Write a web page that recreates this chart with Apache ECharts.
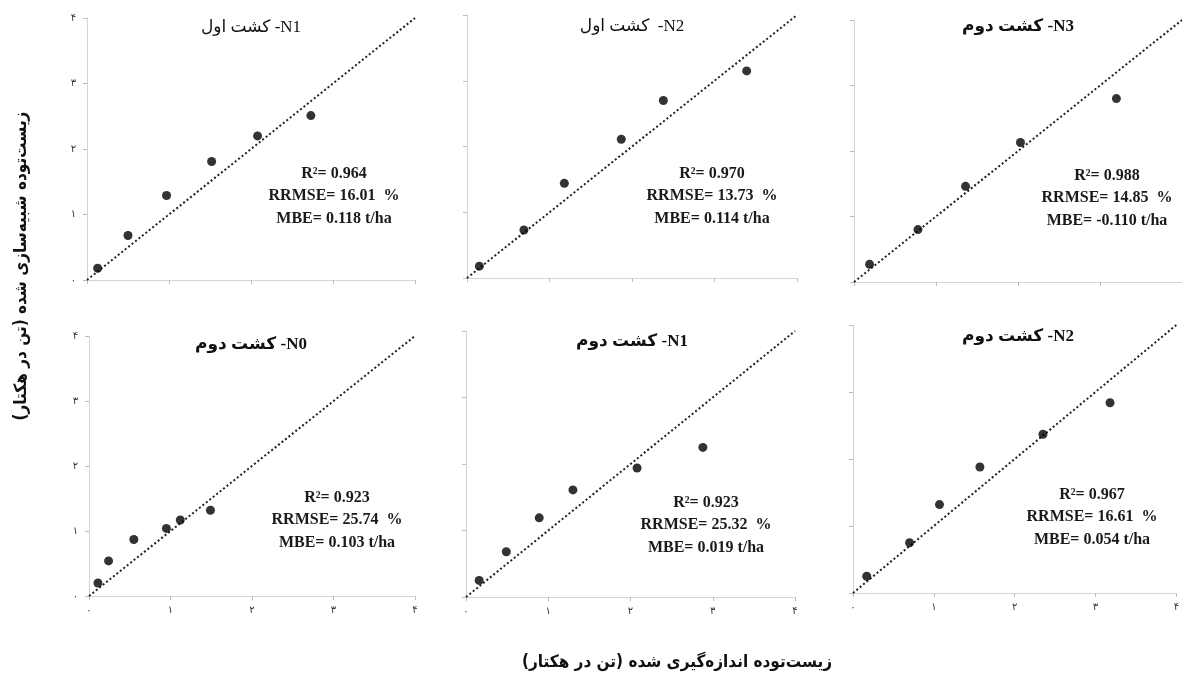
<!DOCTYPE html>
<html>
<head>
<meta charset="utf-8">
<script src="https://cdn.jsdelivr.net/npm/echarts@6/dist/echarts.min.js"></script>
<style>
  html, body { margin: 0; padding: 0; background: #fff; }
  #main { width: 1182px; height: 682px; }
</style>
</head>
<body>
<div id="main"></div>
<script>
// tick labels (Persian digits) for 0..4
var tickLabels = ['۰', '۱', '۲', '۳', '۴'];

// measured (x) vs simulated (y) biomass, t/ha
var n1FirstObs  = [0.13, 0.50, 0.97, 1.52, 2.08, 2.73];
var n1FirstSim  = [0.18, 0.68, 1.29, 1.81, 2.20, 2.51];
var n2FirstObs  = [0.15, 0.69, 1.18, 1.87, 2.38, 3.39];
var n2FirstSim  = [0.18, 0.73, 1.44, 2.11, 2.70, 3.15];
var n3SecondObs = [0.19, 0.78, 1.36, 2.03, 3.20];
var n3SecondSim = [0.27, 0.80, 1.46, 2.13, 2.80];
var n0SecondObs = [0.11, 0.24, 0.55, 0.95, 1.12, 1.49];
var n0SecondSim = [0.20, 0.54, 0.87, 1.04, 1.17, 1.32];
var n1SecondObs = [0.16, 0.49, 0.89, 1.30, 2.08, 2.88];
var n1SecondSim = [0.25, 0.68, 1.19, 1.61, 1.94, 2.25];
var n2SecondObs = [0.17, 0.70, 1.07, 1.57, 2.35, 3.18];
var n2SecondSim = [0.25, 0.75, 1.32, 1.88, 2.37, 2.84];

var titles = ['کشت اول -N1', 'کشت اول  -N2', 'کشت دوم -N3', 'کشت دوم -N0', 'کشت دوم -N1', 'کشت دوم -N2'];
var r2Values = ['0.964', '0.970', '0.988', '0.923', '0.923', '0.967'];
var rrmseValues = ['16.01', '13.73', '14.85', '25.74', '25.32', '16.61'];
var mbeValues = ['0.118', '0.114', '-0.110', '0.103', '0.019', '0.054'];

var obsList = [n1FirstObs, n2FirstObs, n3SecondObs, n0SecondObs, n1SecondObs, n2SecondObs];
var simList = [n1FirstSim, n2FirstSim, n3SecondSim, n0SecondSim, n1SecondSim, n2SecondSim];

// panel layout
var panels = [
  {left: 87,  top: 18,  width: 328, height: 262, titleX: 251,  titleY: 28,  titleBold: false, statX: 334,  statY: 196, xLab: false, yLab: true},
  {left: 467, top: 15,  width: 330, height: 263, titleX: 632,  titleY: 27,  titleBold: false, statX: 712,  statY: 196, xLab: false, yLab: false},
  {left: 854, top: 20,  width: 328, height: 262, titleX: 1018, titleY: 27,  titleBold: true,  statX: 1107, statY: 198, xLab: false, yLab: false},
  {left: 89,  top: 336, width: 326, height: 260, titleX: 251,  titleY: 345, titleBold: true,  statX: 337,  statY: 520, xLab: true,  yLab: true},
  {left: 466, top: 331, width: 329, height: 266, titleX: 632,  titleY: 342, titleBold: true,  statX: 706,  statY: 525, xLab: true,  yLab: false},
  {left: 853, top: 325, width: 329, height: 268, titleX: 1018, titleY: 337, titleBold: true,  statX: 1092, statY: 517, xLab: true,  yLab: false}
];

var serif = '"Liberation Serif", "DejaVu Serif", "DejaVu Sans", serif';
var grids = [], xAxes = [], yAxes = [], series = [], graphics = [];

function axisCommon(showLabel, isX) {
  return {
    type: 'value',
    min: 0,
    max: 4,
    interval: 1,
    splitLine: {show: false},
    axisLine: {show: true, lineStyle: {color: '#d4d4d4', width: 1}},
    axisTick: {show: true, length: 4, lineStyle: {color: '#bdbdbd'}},
    axisLabel: {
      show: showLabel,
      margin: isX ? 9 : 11,
      fontSize: 10,
      color: '#333',
      fontFamily: '"DejaVu Sans", sans-serif',
      formatter: function (v) { return tickLabels[v]; }
    }
  };
}

panels.forEach(function (p, i) {
  grids.push({left: p.left, top: p.top, width: p.width, height: p.height});
  var xa = axisCommon(p.xLab, true);
  xa.gridIndex = i;
  xAxes.push(xa);
  var ya = axisCommon(p.yLab, false);
  ya.gridIndex = i;
  yAxes.push(ya);

  // 1:1 line
  series.push({
    type: 'line',
    xAxisIndex: i,
    yAxisIndex: i,
    data: [[0, 0], [4, 4]],
    symbol: 'none',
    silent: true,
    lineStyle: {color: '#222', width: 2, type: [2, 2.4]},
    z: 1
  });

  var pts = obsList[i].map(function (x, k) { return [x, simList[i][k]]; });
  series.push({
    type: 'scatter',
    xAxisIndex: i,
    yAxisIndex: i,
    data: pts,
    symbol: 'circle',
    symbolSize: 9,
    itemStyle: {color: '#000'},
    z: 3
  });

  graphics.push({
    type: 'text',
    x: p.titleX,
    y: p.titleY,
    style: {
      text: titles[i],
      fill: '#111',
      font: (p.titleBold ? 'bold ' : '') + '17px ' + serif,
      align: 'center',
      verticalAlign: 'middle'
    }
  });

  graphics.push({
    type: 'text',
    x: p.statX,
    y: p.statY,
    style: {
      text: 'R²= ' + r2Values[i] + '\nRRMSE= ' + rrmseValues[i] + '  %\nMBE= ' + mbeValues[i] + ' t/ha',
      fill: '#1a1a1a',
      font: 'bold 16px ' + serif,
      lineHeight: 22.5,
      align: 'center',
      verticalAlign: 'middle'
    }
  });
});

var axisTitleFont = 'bold 17px "DejaVu Sans Condensed", "DejaVu Sans", sans-serif';
graphics.push({
  type: 'text',
  x: 677,
  y: 663,
  style: {
    text: 'زیست‌توده اندازه‌گیری شده (تن در هکتار)',
    fill: '#111',
    font: axisTitleFont,
    align: 'center',
    verticalAlign: 'middle'
  }
});
graphics.push({
  type: 'text',
  x: 22,
  y: 266,
  rotation: Math.PI / 2,
  style: {
    text: 'زیست‌توده شبیه‌سازی شده (تن در هکتار)',
    fill: '#111',
    font: axisTitleFont,
    align: 'center',
    verticalAlign: 'middle'
  }
});

var myChart = echarts.init(document.getElementById('main'));
var option = {
  backgroundColor: '#fff',
  animation: false,
  grid: grids,
  xAxis: xAxes,
  yAxis: yAxes,
  series: series,
  graphic: graphics
};
myChart.setOption(option);
</script>
</body>
</html>
